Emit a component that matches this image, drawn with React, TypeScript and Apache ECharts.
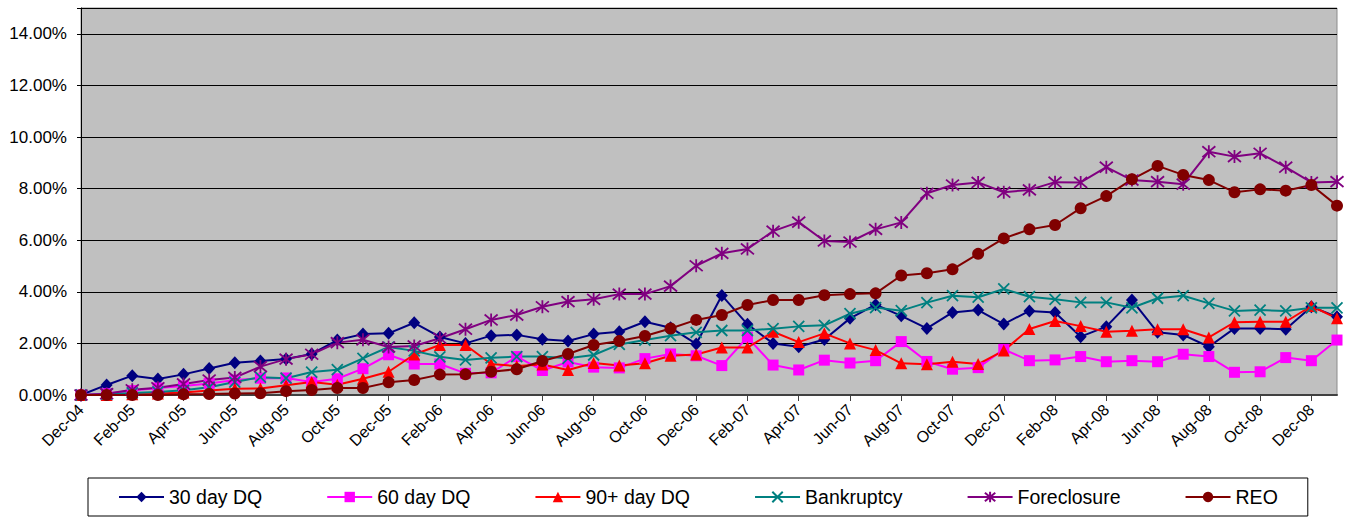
import React, { useEffect, useRef } from "react";
import * as echarts from "echarts";

// Month labels, Dec-04 through Jan-09
const months = [
  "Dec-04", "Jan-05", "Feb-05", "Mar-05", "Apr-05", "May-05", "Jun-05", "Jul-05", "Aug-05", "Sep-05",
  "Oct-05", "Nov-05", "Dec-05", "Jan-06", "Feb-06", "Mar-06", "Apr-06", "May-06", "Jun-06", "Jul-06",
  "Aug-06", "Sep-06", "Oct-06", "Nov-06", "Dec-06", "Jan-07", "Feb-07", "Mar-07", "Apr-07", "May-07",
  "Jun-07", "Jul-07", "Aug-07", "Sep-07", "Oct-07", "Nov-07", "Dec-07", "Jan-08", "Feb-08", "Mar-08",
  "Apr-08", "May-08", "Jun-08", "Jul-08", "Aug-08", "Sep-08", "Oct-08", "Nov-08", "Dec-08", "Jan-09",
];

// Percent of balance by status
const dq30 = [
  0, 0.39, 0.75, 0.62, 0.80, 1.03, 1.25, 1.32, 1.40, 1.59,
  2.13, 2.36, 2.39, 2.80, 2.25, 2.00, 2.30, 2.33, 2.16, 2.09,
  2.36, 2.45, 2.84, 2.61, 1.98, 3.86, 2.74, 2.00, 1.87, 2.15,
  2.97, 3.50, 3.07, 2.58, 3.20, 3.29, 2.75, 3.26, 3.20, 2.26,
  2.65, 3.68, 2.43, 2.33, 1.87, 2.58, 2.58, 2.55, 3.42, 3.03,
];
const dq60 = [
  0, 0.05, 0.17, 0.27, 0.35, 0.45, 0.58, 0.65, 0.66, 0.50,
  0.63, 1.02, 1.56, 1.20, 1.20, 0.84, 0.86, 1.49, 0.95, 1.28,
  1.08, 1.05, 1.41, 1.59, 1.52, 1.14, 2.24, 1.16, 0.97, 1.35,
  1.24, 1.33, 2.07, 1.30, 1.00, 1.06, 1.77, 1.33, 1.36, 1.49,
  1.29, 1.33, 1.29, 1.58, 1.49, 0.88, 0.90, 1.45, 1.33, 2.13,
];
const dq90 = [
  0, 0, 0.03, 0.06, 0.10, 0.17, 0.24, 0.25, 0.38, 0.50,
  0.40, 0.63, 0.90, 1.57, 1.94, 1.94, 1.20, 1.12, 1.18, 0.97,
  1.24, 1.14, 1.23, 1.52, 1.57, 1.84, 1.84, 2.45, 2.05, 2.39,
  2.00, 1.74, 1.23, 1.19, 1.29, 1.20, 1.72, 2.56, 2.87, 2.67,
  2.45, 2.49, 2.55, 2.55, 2.23, 2.82, 2.84, 2.84, 3.45, 2.97,
];
const bankruptcy = [
  0, 0.03, 0.08, 0.12, 0.18, 0.30, 0.50, 0.69, 0.65, 0.89,
  0.98, 1.42, 1.86, 1.71, 1.48, 1.36, 1.44, 1.49, 1.49, 1.42,
  1.55, 1.96, 2.13, 2.30, 2.43, 2.50, 2.50, 2.57, 2.66, 2.70,
  3.15, 3.39, 3.27, 3.58, 3.85, 3.79, 4.11, 3.81, 3.71, 3.59,
  3.59, 3.38, 3.75, 3.85, 3.55, 3.26, 3.29, 3.26, 3.38, 3.38,
];
const foreclosure = [
  0, 0.05, 0.20, 0.28, 0.43, 0.58, 0.68, 1.10, 1.39, 1.58,
  2.03, 2.14, 1.86, 1.90, 2.20, 2.55, 2.91, 3.10, 3.42, 3.62,
  3.71, 3.91, 3.91, 4.22, 5.01, 5.49, 5.66, 6.35, 6.70, 5.97,
  5.93, 6.42, 6.69, 7.82, 8.14, 8.24, 7.86, 7.95, 8.25, 8.24,
  8.83, 8.33, 8.27, 8.17, 9.43, 9.24, 9.37, 8.83, 8.24, 8.27,
];
const reo = [
  0, 0, 0, 0, 0.03, 0.04, 0.06, 0.07, 0.15, 0.19,
  0.27, 0.27, 0.49, 0.58, 0.79, 0.80, 0.90, 1.00, 1.32, 1.59,
  1.94, 2.09, 2.29, 2.58, 2.91, 3.10, 3.49, 3.68, 3.68, 3.87,
  3.91, 3.94, 4.63, 4.72, 4.87, 5.47, 6.07, 6.42, 6.59, 7.24,
  7.71, 8.36, 8.88, 8.53, 8.33, 7.86, 7.97, 7.92, 8.14, 7.34,
];

const FONT = "'Liberation Sans', Arial, sans-serif";
const CROSS = "path://M0,0 L10,10 M10,0 L0,10";
const STAR = "path://M0,0 L10,10 M10,0 L0,10 M5,-1 L5,11";

function lineSeries(name: string, data: number[], color: string, symbol: string, size: number | number[], stroked = false) {
  return {
    name,
    type: "line",
    data,
    symbol,
    symbolSize: size,
    showSymbol: true,
    lineStyle: { color, width: 2 },
    itemStyle: stroked
      ? { color: "rgba(0,0,0,0)", borderColor: color, borderWidth: 1.8 }
      : { color, borderWidth: 0 },
    emphasis: { disabled: true },
  };
}

export default function App() {
  const ref = useRef<HTMLDivElement>(null);

  useEffect(() => {
    if (!ref.current) return;
    const chart = echarts.init(ref.current, undefined, { renderer: "svg" });
    chart.setOption({
      animation: false,
      backgroundColor: "#ffffff",
      grid: {
        left: 81,
        top: 8,
        right: 14,
        bottom: 123,
        show: true,
        backgroundColor: "#c0c0c0",
        borderColor: "#8c8c8c",
        borderWidth: 1,
      },
      legend: {
        left: 88,
        top: 478,
        padding: [9, 30, 9, 30],
        borderColor: "#000000",
        borderWidth: 1,
        itemGap: 64,
        itemWidth: 45,
        itemHeight: 13,
        textStyle: { fontFamily: FONT, fontSize: 19.5, color: "#000000" },
        data: ["30 day DQ", "60 day DQ", "90+ day DQ", "Bankruptcy", "Foreclosure", "REO"],
      },
      xAxis: {
        type: "category",
        data: months,
        boundaryGap: false,
        axisLine: { lineStyle: { color: "#404040", width: 2 } },
        axisTick: { interval: 1, length: 6, lineStyle: { color: "#404040", width: 1 } },
        axisLabel: {
          interval: 1,
          rotate: 45,
          margin: 12,
          fontFamily: FONT,
          fontSize: 16,
          color: "#000000",
        },
        splitLine: { show: false },
      },
      yAxis: {
        type: "value",
        min: 0,
        max: 15,
        interval: 2,
        axisLine: { show: true, lineStyle: { color: "#000000", width: 1 } },
        axisTick: { show: true, length: 4, lineStyle: { color: "#000000" } },
        axisLabel: {
          margin: 14,
          fontFamily: FONT,
          fontSize: 17,
          color: "#000000",
          formatter: (v: number) => (v <= 14 ? v.toFixed(2) + "%" : ""),
        },
        splitLine: { lineStyle: { color: "#000000", width: 1 } },
      },
      series: [
        lineSeries("30 day DQ", dq30, "#000080", "diamond", [12, 13]),
        lineSeries("60 day DQ", dq60, "#ff00ff", "rect", 11),
        lineSeries("90+ day DQ", dq90, "#ff0000", "triangle", [12, 12]),
        lineSeries("Bankruptcy", bankruptcy, "#008080", CROSS, 11, true),
        lineSeries("Foreclosure", foreclosure, "#800080", STAR, 13, true),
        lineSeries("REO", reo, "#800000", "circle", 12),
      ],
    });
    return () => chart.dispose();
  }, []);

  return (
    <div
      ref={ref}
      style={{ position: "fixed", left: 0, top: 0, width: 1351, height: 518 }}
    />
  );
}
